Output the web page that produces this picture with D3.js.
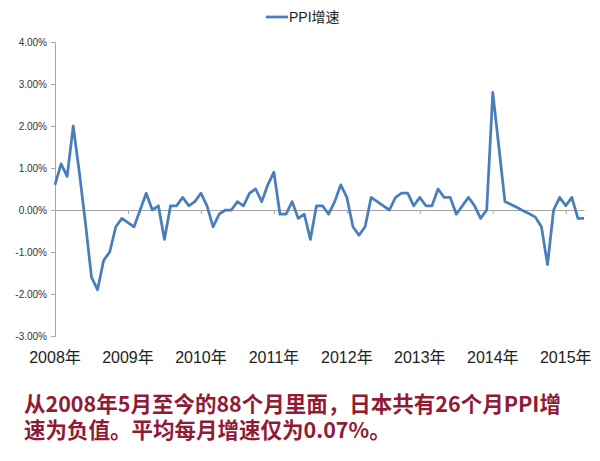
<!DOCTYPE html>
<html>
<head>
<meta charset="utf-8">
<script src="https://cdn.jsdelivr.net/npm/d3@7/dist/d3.min.js"></script>
<style>
  html, body { margin: 0; padding: 0; background: #fff; }
  body { position: relative; width: 600px; height: 461px; overflow: hidden; }
  svg { display: block; }
</style>
</head>
<body>
<svg id="chart" width="600" height="461"></svg>
<script>
// ---- data ----
const seriesName = "PPI增速";
const ppiGrowth = [
  0.6, 1.1, 0.8, 2.0, 0.9, -0.3, -1.6, -1.9, -1.2, -1.0, -0.4, -0.2,
  -0.3, -0.4, 0.0, 0.4, 0.0, 0.1, -0.7, 0.1, 0.1, 0.3, 0.1, 0.2,
  0.4, 0.1, -0.4, -0.1, 0.0, 0.0, 0.2, 0.1, 0.4, 0.5, 0.2, 0.6,
  0.9, -0.1, -0.1, 0.2, -0.2, -0.1, -0.7, 0.1, 0.1, -0.1, 0.2, 0.6,
  0.3, -0.4, -0.6, -0.4, 0.3, 0.2, 0.1, 0.0, 0.3, 0.4, 0.4, 0.1,
  0.3, 0.1, 0.1, 0.5, 0.3, 0.3, -0.1, 0.1, 0.3, 0.1, -0.2, 0.0,
  2.8, 1.5, 0.2, 0.13, 0.06, -0.02, -0.09, -0.17, -0.4, -1.3, 0.0, 0.3,
  0.1, 0.3, -0.2, -0.2
];
const yearLabels = ["2008年", "2009年", "2010年", "2011年", "2012年", "2013年", "2014年", "2015年"];
const yTicks = [-3, -2, -1, 0, 1, 2, 3, 4];
const captionText = "从2008年5月至今的88个月里面，日本共有26个月PPI增速为负值。平均每月增速仅为0.07%。";

// ---- drawing ----
const svg = d3.select("#chart");
const lineColor = "#4a7ebb";
const axisColor = "#a6a6a6";
const latin = "'Liberation Sans', Arial, 'Noto Sans CJK SC', sans-serif";

const x = d3.scaleLinear().domain([0, ppiGrowth.length - 1]).range([55, 584]);
const y = d3.scaleLinear().domain([d3.min(yTicks), d3.max(yTicks)]).range([336, 42]);

// y axis
const yAxis = svg.append("g")
  .attr("transform", `translate(${x(0)},0)`)
  .call(d3.axisLeft(y).tickValues(yTicks).tickSize(4).tickSizeOuter(4)
    .tickFormat(d => d.toFixed(2) + "%"));
yAxis.select(".domain").attr("stroke", axisColor);
yAxis.selectAll(".tick line").attr("stroke", axisColor);
yAxis.selectAll(".tick text")
  .attr("x", -8)
  .attr("fill", "#333")
  .style("font-family", latin)
  .style("font-size", "10px");

// x (zero) axis
const tickIdx = yearLabels.map((d, i) => i * 12);
const xAxis = svg.append("g")
  .attr("transform", `translate(0,${y(0)})`)
  .call(d3.axisBottom(x).tickValues(tickIdx).tickSize(4).tickSizeOuter(0).tickFormat(""));
xAxis.select(".domain").attr("stroke", axisColor);
xAxis.selectAll(".tick line").attr("stroke", axisColor);

// year labels at the bottom
svg.append("g").selectAll("text")
  .data(yearLabels)
  .join("text")
  .attr("x", (d, i) => x(tickIdx[i]))
  .attr("y", 363)
  .attr("text-anchor", "middle")
  .attr("fill", "#222")
  .style("font-family", latin)
  .style("font-size", "16px")
  .text(d => d);

// line
svg.append("path")
  .datum(ppiGrowth)
  .attr("fill", "none")
  .attr("stroke", lineColor)
  .attr("stroke-width", 2.75)
  .attr("stroke-linejoin", "round")
  .attr("d", d3.line().x((d, i) => x(i)).y(d => y(d)));

// legend
const lg = svg.append("g");
lg.append("line")
  .attr("x1", 266).attr("x2", 288).attr("y1", 17).attr("y2", 17)
  .attr("stroke", lineColor).attr("stroke-width", 2.75);
lg.append("text")
  .attr("x", 289).attr("y", 22)
  .attr("fill", "#222")
  .style("font-family", latin)
  .style("font-size", "14px")
  .text(seriesName);

// caption: a single wrapped block
d3.select("body").append("div")
  .style("position", "absolute")
  .style("left", "24px")
  .style("top", "390px")
  .style("width", "548px")
  .style("color", "#8f1b35")
  .style("font-family", "'Noto Sans CJK SC', sans-serif")
  .style("font-weight", "bold")
  .style("font-size", "21.5px")
  .style("line-height", "26px")
  .style("word-break", "break-all")
  .text(captionText);
</script>
</body>
</html>
